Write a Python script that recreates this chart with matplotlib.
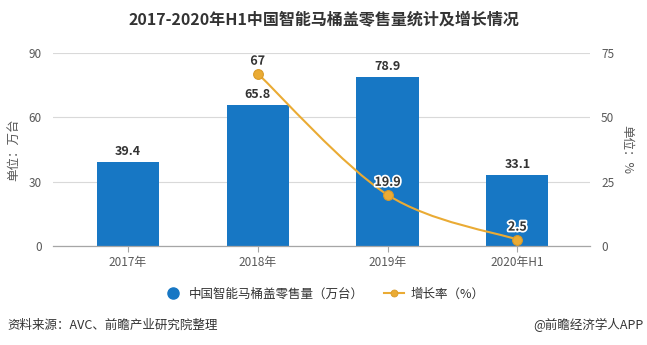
import matplotlib
matplotlib.use("Agg")
import matplotlib.pyplot as plt
import matplotlib.patheffects as pe
from matplotlib.path import Path
from matplotlib.patches import PathPatch
from matplotlib.lines import Line2D
import numpy as np

plt.rcParams["font.family"] = ["Noto Sans CJK SC", "DejaVu Sans"]

categories = ["2017年", "2018年", "2019年", "2020年H1"]
sales = [39.4, 65.8, 78.9, 33.1]
growth_idx = [1, 2, 3]
growth = [67, 19.9, 2.5]
growth_labels = ["67", "19.9", "2.5"]

BAR_C = "#1777c4"
LINE_C = "#eaab34"
GRID_C = "#d9d9d9"
TXT_C = "#595959"

fig = plt.figure(figsize=(6.47, 3.45), dpi=100)
ax = fig.add_axes([53 / 647, 1 - 246 / 345, 537 / 647, 193 / 345])
ax2 = ax.twinx()

x = np.arange(len(categories))
ax.bar(x, sales, width=0.48, color=BAR_C, zorder=2)
for xi, v in zip(x, sales):
    ax.text(xi, v + 1.8, f"{v}", ha="center", va="bottom", fontsize=9,
            fontweight="bold", color="#333333")

ax.set_xlim(-0.577, 3.56)
ax.set_ylim(0, 90)
ax.set_yticks([0, 30, 60, 90])
ax.set_xticks(x)
ax.set_xticklabels(categories)
ax.grid(axis="y", color=GRID_C, lw=0.8, zorder=0)
ax.set_axisbelow(True)
for s in ax.spines.values():
    s.set_visible(False)
for s in ax2.spines.values():
    s.set_visible(False)
ax.spines["bottom"].set_visible(True)
ax.spines["bottom"].set_color("#a6a6a6")
ax.spines["bottom"].set_linewidth(0.9)
ax.tick_params(axis="x", length=4, color="#a6a6a6", labelcolor=TXT_C,
               labelsize=8.5, pad=3)
ax.tick_params(axis="y", length=0, colors=TXT_C, labelsize=8.5, pad=8)
ax.set_ylabel("单位：万台", color=TXT_C, fontsize=9, labelpad=6)

ax2.set_ylim(0, 75)
ax2.set_yticks([0, 25, 50, 75])
ax2.tick_params(axis="y", length=0, colors=TXT_C, labelsize=8.5, pad=8)
ax2.set_ylabel("单位：%", color=TXT_C, fontsize=9, rotation=270, labelpad=14)

# smooth curve (Catmull-Rom -> cubic Bezier) through the growth points
gx = np.array(growth_idx, dtype=float)
gy = np.array(growth, dtype=float)
pts = np.column_stack([gx, gy])
verts = [tuple(pts[0])]
codes = [Path.MOVETO]
n = len(pts)
for i in range(n - 1):
    p0 = pts[max(i - 1, 0)]
    p1 = pts[i]
    p2 = pts[i + 1]
    p3 = pts[min(i + 2, n - 1)]
    c1 = p1 + (p2 - p0) / 6
    c2 = p2 - (p3 - p1) / 6
    verts += [tuple(c1), tuple(c2), tuple(p2)]
    codes += [Path.CURVE4] * 3
ax2.add_patch(PathPatch(Path(verts, codes), fill=False, edgecolor=LINE_C,
                        lw=1.5, zorder=3))
ax2.plot(gx, gy, "o", color=LINE_C, markersize=7, markeredgecolor="#d99a28",
         markeredgewidth=0.8, zorder=4)
for xi, v, lab in zip(gx, gy, growth_labels):
    ax2.text(xi, v + 2.3, lab, ha="center", va="bottom", fontsize=9,
             fontweight="bold", color="#333333", zorder=5,
             path_effects=[pe.withStroke(linewidth=2.5, foreground="white")])

fig.text(0.5, 1 - 20 / 345, "2017-2020年H1中国智能马桶盖零售量统计及增长情况",
         ha="center", va="center", fontsize=11.5, fontweight="bold",
         color="#333333")

handles = [
    Line2D([], [], marker="o", ls="none", color=BAR_C, markersize=8),
    Line2D([], [], marker="o", color=LINE_C, lw=1.5, markersize=5,
           markeredgecolor="#d99a28", markeredgewidth=0.6),
]
fig.legend(handles, ["中国智能马桶盖零售量（万台）", "增长率（%）"],
           loc="center", bbox_to_anchor=(0.5, 1 - 294 / 345),
           ncol=2, frameon=False, fontsize=9, handlelength=1.6,
           columnspacing=1.6, handletextpad=0.5, labelcolor="#333333")

fig.text(7 / 647, 1 - 325 / 345, "资料来源：AVC、前瞻产业研究院整理",
         ha="left", va="center", fontsize=9, color="#333333")
fig.text(644 / 647, 1 - 325 / 345, "@前瞻经济学人APP",
         ha="right", va="center", fontsize=9, color="#333333")

fig.savefig("out.png", dpi=100)
